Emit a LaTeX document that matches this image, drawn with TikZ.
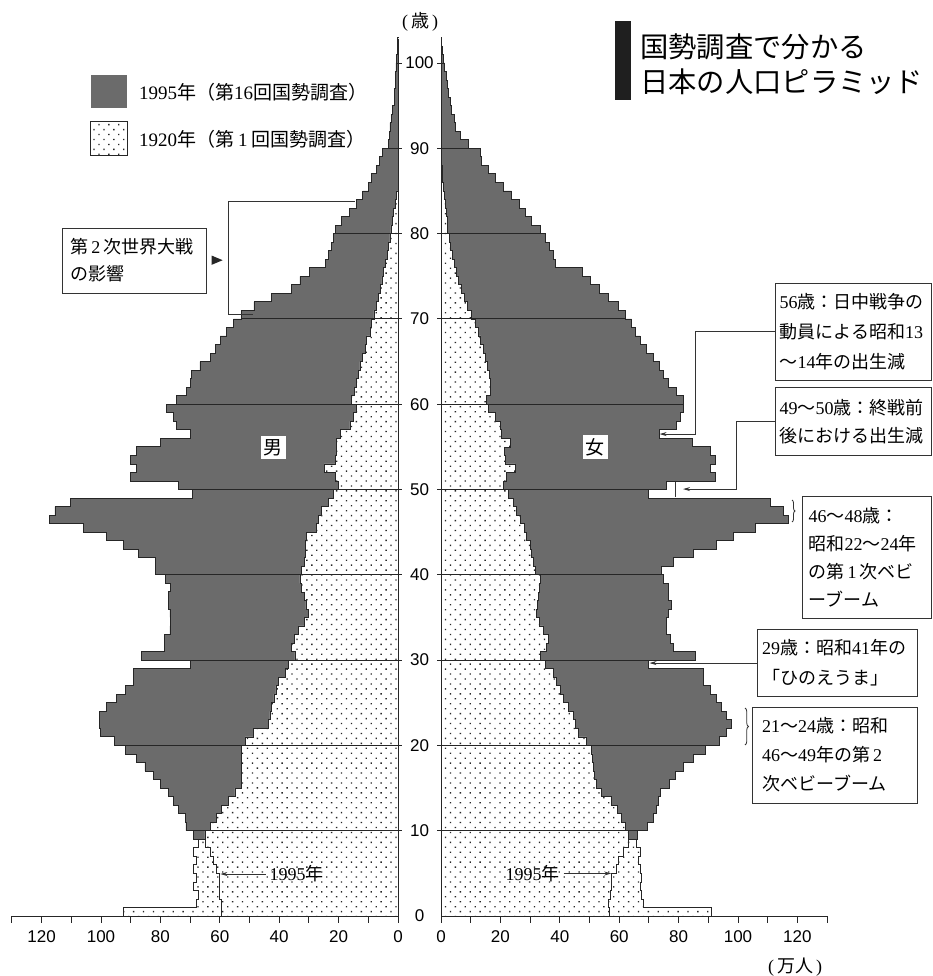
\documentclass[tikz,border=0pt]{standalone}
\usepackage{fontspec}
\setmainfont{Liberation Serif}
\newfontfamily\jp{Noto Sans CJK JP}
\newfontfamily\axf{Liberation Sans}
\newcommand\J[1]{{\jp #1}}
\usetikzlibrary{patterns.meta,arrows.meta,decorations.pathreplacing}

\def\MaleNF{0/59.4,1/59.4,2/60,3/60,4/60,5/61,6/62.2,7/63.3,8/65,9/68.9,10/71.4,11/71.7,12/74,13/75.6,14/77.3,15/80.1,16/82.4,17/85.2,18/88,19/91.9,20/95.5,21/100.3,22/100.6,23/100.6,24/98.1,25/94.7,26/91.9,27/89.1,28/89.1,29/70,30/86.3,31/78.5,32/78.5,33/76.8,34/76.5,35/76.8,36/77.3,37/77.3,38/76.5,39/78.2,40/81.8,41/81.8,42/87.4,43/92.5,44/98.1,45/106,46/117.4,47/115.5,48/110.4,49/69.1,50/74,51/90.2,52/88,53/90.2,54/88,55/80.1,56/70,57/74.5,58/75.6,59/77.9,60/74.5,61/71.2,62/70,63/69.5,64/66.7,65/63.3,66/61.6,67/59.9,68/57.7,69/55.4,70/52.6,71/48.5,72/42.5,73/36,74/33,75/29.9,76/24.5,77/23.5,78/22.5,79/21.8,80/21.2,81/19,82/16.2,83/13.9,84/11.9,85/10,86/8.9,87/7.2,88/6.1,89/5.2,90/3.3,91/2.9,92/2.7,93/2.1,94/1.8,95/1.3,96/1.1,97/0.9,98/0.8,99/0.7,100/0.5,101/0.3,102/0.15}
\def\FemNF{0/56.7,1/56.3,2/56.9,3/57.5,4/57.5,5/58.9,6/59.7,7/61.4,8/63.1,9/66,10/69.5,11/71.5,12/72.6,13/73.2,14/73.7,15/76.8,16/79,17/81.6,18/85,19/88.9,20/93.9,21/96.2,22/97.9,23/96.2,24/94.5,25/92.8,26/90.6,27/88.3,28/88.3,29/69.8,30/85.5,31/78.2,32/77.1,33/76,34/76,35/76.5,36/77.7,37/76.5,38/76.5,39/74.9,40/74.3,41/78.2,42/85,43/92.8,44/98.4,45/105.7,46/117,47/115.3,48/110.8,49/69.8,50/76,51/92.3,52/90.6,53/92.3,54/90.6,55/84.5,56/73.4,57/79.3,58/80.5,59/81.6,60/81.6,61/79.1,62/76.5,63/74.9,64/73.5,65/71.5,66/69.2,67/67,68/65.3,69/64.2,70/62,71/59.7,72/56.3,73/53.3,74/50.4,75/47.7,76/38.4,77/37.8,78/36.5,79/35,80/33.3,81/30.5,82/28.3,83/26.4,84/23.8,85/21,86/18.2,87/15.9,88/13.7,89/13.1,90/9.2,91/6.4,92/5,93/4.4,94/3.6,95/3,96/2.6,97/2.1,98/1.7,99/1.3,100/0.8,101/0.5,102/0.2}
\def\MaleOF{0/92.5,1/67.8,2/67.2,3/68.9,4/67.8,5/68.9,6/67.8,7/68.9,8/67.2,9/65,10/63.3,11/61.1,12/59.4,13/57.1,14/54.9,15/52.6,16/52.6,17/52.6,18/52.6,19/52.6,20/51.5,21/48.7,22/43.7,23/43.1,24/42.5,25/41.8,26/41.1,27/40.3,28/38,29/36.9,30/34.7,31/35.8,32/35,33/33.5,34/31.5,35/30.2,36/31,37/31.6,38/32.4,39/33,40/32.4,41/31.6,42/31.3,43/31.3,44/30.8,45/27.4,46/26.8,47/25.7,48/23.5,49/21.8,50/20.1,51/21.2,52/24.9,53/21.2,54/20.7,55/20.7,56/19.5,57/16.2,58/15,59/13.9,60/15.6,61/14.8,62/14.1,63/13.4,64/12.8,65/11.9,66/11.1,67/10.5,68/9.4,69/8.9,70/8.1,71/7.4,72/6.7,73/6,74/5.4,75/4.8,76/4.2,77/3.6,78/3.2,79/2.7,80/2.4,81/1.9,82/1.5,83/1,84/0.5}
\def\FemOF{0/91.1,1/68.1,2/67.6,3/67,4/67.6,5/67,6/66.4,7/67,8/65.9,9/63,10/62,11/60.8,12/59.5,13/57.5,14/54.1,15/52.4,16/51.5,17/51.3,18/51.1,19/50.7,20/49,21/46.2,22/45.1,23/44.6,24/42.9,25/41.2,26/40.1,27/38.9,28/37.8,29/35,30/33.3,31/35.6,32/36.1,33/34.5,34/33.1,35/32.2,36/32.4,37/32.8,38/33.1,39/33.3,40/31.6,41/31.1,42/30.5,43/30,44/28.8,45/27.9,46/26.6,47/25.5,48/24.4,49/22.7,50/21,51/21.9,52/24.9,53/21.5,54/21.2,55/23.2,56/20.4,57/19.9,58/18.2,59/15.9,60/15.4,61/16.5,62/16.5,63/16.2,64/15.7,65/15,66/14.3,67/13.4,68/12.6,69/11.4,70/10.3,71/9,72/7.8,73/6.8,74/6,75/5,76/4.4,77/3.7,78/3.1,79/2.7,80/2.3,81/2.1,82/1.8,83/1.5,84/1.2,85/0.9,86/0.6,87/0.4,88/0.2}

\tikzset{
  g95/.style={fill=black!58},
  d20/.style={preaction={fill=white}, pattern={Dots[distance=7pt,angle=45,radius=0.95pt]}, pattern color=black!85, draw=black!85, line width=0.7pt},
  outl/.style={draw=black!85, line width=0.8pt},
  gridl/.style={draw=black!85, line width=0.9pt},
  axisl/.style={draw=black!85, line width=0.9pt},
  axlab/.style={font=\axf\fontsize{17}{17}\selectfont, inner sep=0pt},
  box/.style={draw=black!80, line width=0.8pt, fill=white, anchor=north west, align=left, inner ysep=0pt},
  conn/.style={draw=black!80, line width=0.8pt},
  tip/.style={-{Stealth[length=7pt,width=4pt]}},
}

\begin{document}
\begin{tikzpicture}[x=1pt,y=-1pt]
\useasboundingbox (0,0) rectangle (932,976);

% ---------- left (male) ----------
\begin{scope}[shift={(398,916)}, xscale=-2.97, yscale=-8.53]
  \fill[g95] (0,0) \foreach \a/\v in \MaleNF { -- (\v,\a) -- (\v,{\a+1}) } -- (0,103) -- cycle;
  \path[d20] (0,0) \foreach \a/\v in \MaleOF { -- (\v,\a) -- (\v,{\a+1}) } -- (0,85) -- cycle;
  \draw[outl] (0,0) \foreach \a/\v in \MaleNF { -- (\v,\a) -- (\v,{\a+1}) } -- (0,103);
  \foreach \a/\v in {10/71.4,20/95.5,30/86.3,40/81.8,50/74,60/74.5,70/52.6,80/21.2,90/3.3,100/0.5}
    \draw[gridl] (-1.3,\a) -- (\v,\a);
  \draw[axisl] (0,102.8) -- (0,0) -- (130,0);
  \foreach \t in {0,10,...,130} \draw[axisl] (\t,0) -- (\t,-0.85);
  \foreach \t in {0,20,...,120} \node[axlab] (xl\t) at (\t,-2.45) {\t};
  \coordinate (a95L) at (59.8,4.98);
  \coordinate (wwT) at (14.5,83.75);
  \coordinate (wwB) at (48.7,70.55);
\end{scope}

% ---------- right (female) ----------
\begin{scope}[shift={(441,916)}, xscale=2.97, yscale=-8.53]
  \fill[g95] (0,0) \foreach \a/\v in \FemNF { -- (\v,\a) -- (\v,{\a+1}) } -- (0,103) -- cycle;
  \path[d20] (0,0) \foreach \a/\v in \FemOF { -- (\v,\a) -- (\v,{\a+1}) } -- (0,89) -- cycle;
  \draw[outl] (0,0) \foreach \a/\v in \FemNF { -- (\v,\a) -- (\v,{\a+1}) } -- (0,103);
  \foreach \a/\v in {10/69.5,20/93.9,30/85.5,40/74.3,50/76,60/81.6,70/62,80/33.3,90/9.2,100/0.8}
    \draw[gridl] (-1.3,\a) -- (\v,\a);
  \draw[axisl] (0,102.8) -- (0,0) -- (130,0);
  \foreach \t in {0,10,...,130} \draw[axisl] (\t,0) -- (\t,-0.85);
  \foreach \t in {0,20,...,120} \node[axlab] (xr\t) at (\t,-2.45) {\t};
  \coordinate (a95R) at (57.3,5);
  \coordinate (t56) at (73.6,56.5);
  \coordinate (t49) at (81.5,50.05);
  \coordinate (t29) at (70.2,29.7);
  \draw[conn] (79,49.15) -- (79,50.9);
\end{scope}

% age labels
\foreach \a in {0,10,...,100}
  \node[axlab] (ag\a) at (419.5,{916-8.53*\a}) {\a};
\node[inner sep=0pt, font=\fontsize{18}{18}\selectfont] (sai) at (420,22) {(\,\J{歳}\,)};
\node[inner sep=0pt, font=\fontsize{18}{18}\selectfont] (manin) at (795,967) {(\,\J{万人}\,)};

% title
\fill[black!88] (615,20.7) rectangle (630.7,100);
\node[anchor=west, inner sep=0pt, align=left, font=\jp\fontsize{28.3}{35}\selectfont] (title) at (640,64.5)
  {国勢調査で分かる\\日本の人口ピラミッド};

% legend
\node[fill=black!58, minimum width=36.6pt, minimum height=32.7pt, inner sep=0pt] (lg95) at (109,91.3) {};
\node[d20, minimum width=36.6pt, minimum height=33.3pt, inner sep=0pt] (lg20) at (109,138.3) {};
\node[anchor=west, inner sep=0pt, font=\fontsize{19}{19}\selectfont] (lt95) at (139,92) {1995\J{年（第}16\J{回国勢調査）}};
\node[anchor=west, inner sep=0pt, font=\fontsize{19}{19}\selectfont] (lt20) at (139,139) {1920\J{年（第}\hspace{4pt}1\hspace{4pt}\J{回国勢調査）}};

% sex labels
\node[fill=white, inner sep=3pt, font=\jp\fontsize{19}{19}\selectfont] (lm) at (273,447.5) {男};
\node[fill=white, inner sep=3pt, font=\jp\fontsize{19}{19}\selectfont] (lf) at (595,447) {女};

% WWII box and bracket
\node[box, minimum width=143.4pt, minimum height=65pt, text width=128pt, inner xsep=7.7pt, font=\fontsize{18}{27}\selectfont] (bww) at (62.3,227.7)
  {\J{第}\hspace{3pt}2\hspace{3pt}\J{次世界大戦}\\\J{の影響}};
\coordinate (brk) at (228,260);
\fill[black!85] (211.7,255.6) -- (222.7,260.2) -- (211.7,264.8) -- cycle;
\draw[conn] (wwT) -- (wwT -| brk) -- (wwB -| brk) -- (wwB);

% 1995 arrows at bottom
\node[inner sep=4pt, font=\fontsize{18}{18}\selectfont] (l95L) at (296.7,874) {1995\J{年}};
\draw[conn,tip] (l95L.west) -- (l95L.west -| a95L);
\node[inner sep=4pt, font=\fontsize{18}{18}\selectfont] (l95R) at (532.5,873.5) {1995\J{年}};
\draw[conn,tip] (l95R.east) -- (l95R.east -| a95R);

% right annotation boxes
\node[box, minimum width=156pt, minimum height=97.3pt, text width=147.4pt, inner xsep=4.3pt, font=\fontsize{18}{30}\selectfont] (b56) at (775,282.7)
  {56\J{歳：日中戦争の}\\\J{動員による昭和}13\\\J{～}14\J{年の出生減}};
\node[box, minimum width=156pt, minimum height=67.7pt, text width=147.4pt, inner xsep=4.3pt, font=\fontsize{18}{28.5}\selectfont] (b49) at (775,387.3)
  {49\J{～}50\J{歳：終戦前}\\\J{後における出生減}};
\node[box, minimum width=129.3pt, minimum height=122.3pt, text width=116.1pt, inner xsep=6.6pt, font=\fontsize{18}{28}\selectfont] (b46) at (801.7,496)
  {46\J{～}48\J{歳：}\\\J{昭和}22\J{～}24\J{年}\\\J{の第}\hspace{3pt}1\hspace{3pt}\J{次ベビ}\\\J{ーブーム}};
\node[box, minimum width=159.4pt, minimum height=66.7pt, text width=150.6pt, inner xsep=4.4pt, font=\fontsize{18}{30}\selectfont] (b29) at (757.3,629.3)
  {29\J{歳：昭和}41\J{年の}\\\J{「ひのえうま」}};
\node[box, minimum width=165pt, minimum height=96pt, text width=145pt, inner xsep=10pt, font=\fontsize{18}{29}\selectfont] (b21) at (751.7,706.7)
  {21\J{～}24\J{歳：昭和}\\46\J{～}49\J{年の第}\hspace{3pt}2\\\J{次ベビーブーム}};

% connectors
\draw[conn,tip] (b56.west) -- ++(-80,0) |- (t56);
\draw[conn,tip] (b49.west) -- ++(-38.3,0) |- (t49);
\draw[conn,tip] (b29.west) -- (b29.west -| t29);
\coordinate (br46a) at (792,500);
\coordinate (br46b) at (792,522);
\draw[conn, decorate, decoration={brace, amplitude=3pt}] (br46a) -- (br46b);
\coordinate (br21a) at (745,708);
\coordinate (br21b) at (745,745);
\draw[conn, decorate, decoration={brace, amplitude=3.5pt}] (br21a) -- (br21b);
\end{tikzpicture}
\end{document}
